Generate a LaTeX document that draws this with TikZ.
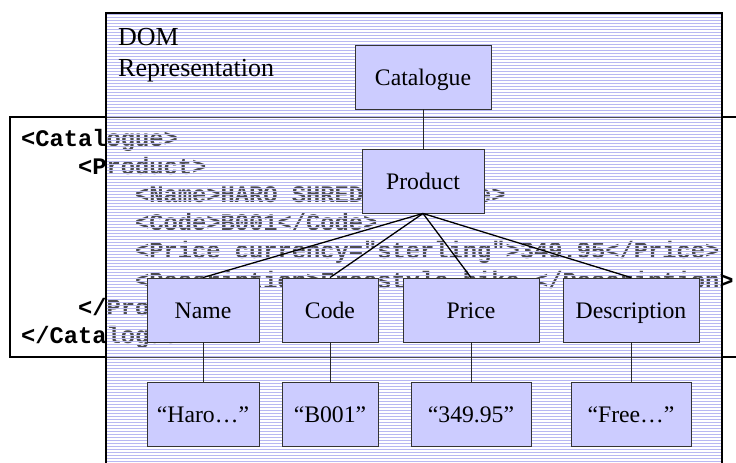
\documentclass[tikz,border=0pt]{standalone}
\usepackage{fontspec}
\setmainfont{Liberation Serif}
\newfontfamily\codefont{Liberation Mono}
\definecolor{boxfill}{RGB}{204,204,255}
\definecolor{stripe}{RGB}{184,184,242}
\begin{document}
\begin{tikzpicture}[x=1pt,y=-1pt,
  nodebox/.style={draw=black!80, line width=0.9pt, fill=boxfill, inner sep=0pt,
    minimum height=64pt, text height=17.4pt, text depth=0pt,
    font=\fontsize{23.7}{28}\selectfont},
  code/.style={anchor=base west, inner sep=0pt,
    font=\codefont\bfseries\fontsize{23.75}{28}\selectfont},
  label/.style={anchor=base west, inner sep=0pt, font=\fontsize{26}{31}\selectfont},
  panel/.style={draw=black, line width=2.5pt},
  fan/.style={draw=black, line width=1.3pt},
  stem/.style={draw=black!85, line width=0.9pt}]
\clip (0,0) rectangle (736,463);
\fill[white] (0,0) rectangle (736,463);

% XML source panel
\draw[panel, fill=white] (10,117) rectangle (760,357);
\node[code] (x1) at (21,146)    {<Catalogue>};
\node[code] (x2) at (78,174.2)  {<Product>};
\node[code] (x3) at (135,202.4) {<Name>HARO SHREDDER</Name>};
\node[code] (x4) at (135,230.6) {<Code>B001</Code>};
\node[code] (x5) at (135,258.8) {<Price currency="sterling">349.95</Price>};
\node[code] (x6) at (135,288)   {<Description>Freestyle bike.</Description>};
\node[code] (x7) at (78,315.2)  {</Product>};
\node[code] (x8) at (21,343.4)  {</Catalogue>};

% DOM panel: ruled sheet laid over the source
\begin{scope}
  \clip (106,13) rectangle (722,470);
  \fill[white, opacity=0.3] (106,13) rectangle (722,470);
  \foreach \k in {0,...,152}
    \draw[stripe, line width=1.0pt] (106,14+3*\k) -- (722,14+3*\k);
\end{scope}
\draw[panel] (106,470) -- (106,13) -- (722,13) -- (722,470);

\node[label] (dom) at (118,45.7) {DOM};
\node[label] (rep) at (118,76.7) {Representation};

% tree
\node[nodebox, minimum width=136pt] (cat)   at (423,77)  {Catalogue};
\node[nodebox, minimum width=122pt] (prod)  at (423,181) {Product};
\node[nodebox, minimum width=112pt] (name)  at (203,310) {Name};
\node[nodebox, minimum width=96pt]  (codeN) at (330,310) {Code};
\node[nodebox, minimum width=136pt] (price) at (471,310) {Price};
\node[nodebox, minimum width=136pt] (desc)  at (631,310) {Description};
\node[nodebox, minimum width=112pt] (haro)  at (203,414) {“Haro…”};
\node[nodebox, minimum width=96pt]  (b001)  at (330,414) {“B001”};
\node[nodebox, minimum width=120pt] (pval)  at (471,414) {“349.95”};
\node[nodebox, minimum width=120pt] (free)  at (631,414) {“Free…”};

\draw[stem] (cat.south) -- (prod.north);
\foreach \n in {name,codeN,price,desc}
  \draw[fan] (prod.south) -- (\n.north);
\draw[stem] (name.south) -- (haro.north);
\draw[stem] (codeN.south) -- (b001.north);
\draw[stem] (price.south) -- (pval.north);
\draw[stem] (desc.south) -- (free.north);
\end{tikzpicture}
\end{document}
